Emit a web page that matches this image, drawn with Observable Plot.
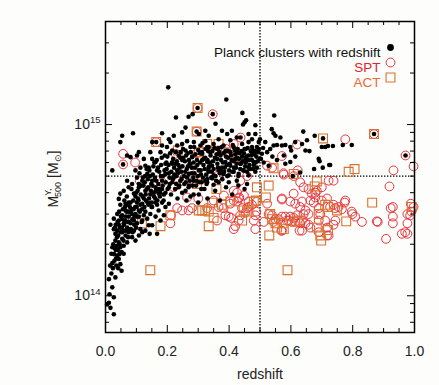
<!DOCTYPE html>
<html>
<head>
<meta charset="utf-8">
<script src="https://cdn.jsdelivr.net/npm/d3@7"></script>
<script src="https://cdn.jsdelivr.net/npm/@observablehq/plot@0.6"></script>
<style>
  body { margin: 0; background: #fdfdfb; }
  #chart { width: 439px; height: 385px; }
</style>
</head>
<body>
<div id="chart"></div>
<script>
// ---- data: [redshift, M500 in units of 1e14 Msun] ----
const planck = [
  // sparse / high mass
  [0.203,16.5],[0.391,14.0],[0.298,12.5],[0.347,11.5],[0.228,11.0],[0.269,11.1],[0.282,11.5],[0.443,11.7],[0.546,11.3],
  [0.295,9.1],[0.259,9.6],[0.089,8.9],[0.054,8.6],[0.048,7.9],[0.164,7.9],[0.183,8.9],[0.437,8.4],[0.869,8.8],[0.704,8.3],
  [0.971,6.6],[0.057,5.85],[0.356,10.1],[0.450,10.3],[0.455,10.6],[0.445,10.0],[0.485,9.9],[0.538,9.4],[0.544,8.9],[0.550,8.6],
  [0.500,8.2],[0.517,7.9],[0.640,9.1],[0.652,8.1],[0.677,8.6],[0.660,7.0],[0.700,7.4],[0.720,7.5],[0.736,7.5],[0.768,7.6],
  [0.797,7.6],[0.690,6.3],[0.675,5.5],[0.703,5.6],[0.724,5.8],[0.022,5.4],
  // z 0.5 - 0.8
  [0.506,6.75],[0.523,6.9],[0.533,7.2],[0.544,7.55],[0.555,7.6],[0.571,7.55],[0.582,7.6],[0.598,7.4],[0.614,7.9],[0.636,7.7],
  [0.647,7.05],[0.555,6.2],[0.582,5.9],[0.598,6.05],[0.630,5.25],[0.566,8.4],[0.496,7.9],[0.474,7.4],[0.485,8.8],[0.601,7.05],
  [0.528,5.75],[0.614,6.5],[0.577,6.6],[0.606,5.0],[0.711,7.4],[0.693,6.1],[0.727,5.8],[0.510,7.3],[0.503,6.3],[0.512,6.0],[0.540,6.5],
  // low-z tail
  [0.011,1.25],[0.032,1.28],[0.022,1.12],[0.027,0.98],[0.011,0.91],[0.016,0.85],[0.027,0.78],[0.013,1.02],[0.005,0.89],
  [0.043,1.64],[0.048,1.53],[0.052,1.40],[0.038,1.72],[0.059,1.76],[0.019,1.76],[0.022,1.92],[0.032,2.1],[0.043,2.05],
  [0.048,1.92],[0.054,2.15],[0.059,1.96],[0.065,2.25],[0.070,2.05],[0.075,2.35],[0.086,2.2],[0.092,2.4],[0.097,2.1],
  [0.102,2.65],[0.108,2.25],[0.113,2.45],[0.119,2.35],[0.129,2.4],[0.143,2.3],[0.151,2.58],[0.167,2.3],[0.016,2.6],
  [0.043,2.75],[0.059,2.65],[0.075,2.9],[0.097,3.0],[0.108,3.15],[0.129,3.1],[0.151,3.3],[0.172,3.15],[0.194,3.3],
  [0.048,3.4],[0.065,3.45],[0.081,3.5],[0.102,3.5],[0.119,3.45],[0.140,3.47],[0.162,3.5],[0.183,3.5],[0.205,3.45],
  [0.032,2.3],[0.027,2.45],[0.038,2.4],[0.054,2.35],[0.070,2.5],[0.081,2.65],[0.092,2.75],[0.119,2.75],[0.135,2.82],
  [0.140,2.58],[0.124,2.95],[0.145,3.0],[0.162,2.9],[0.178,2.75],[0.189,2.95],[0.065,3.15],[0.086,3.2],[0.108,2.9],
  [0.075,3.1],[0.054,2.95],[0.038,3.0],[0.027,2.82],
  [0.024,1.45],[0.029,1.6],[0.035,1.5],[0.041,1.45],[0.019,1.35],[0.015,1.5],[0.033,1.85],[0.045,1.75],
  // band z < 0.34
  [0.048,3.95],[0.043,3.68],[0.059,4.1],[0.070,4.7],[0.075,4.3],[0.086,4.5],[0.092,3.95],[0.102,4.9],[0.108,4.3],[0.119,4.7],
  [0.129,4.1],[0.135,5.15],[0.140,5.6],[0.151,4.7],[0.162,4.3],[0.167,5.4],[0.172,3.95],[0.183,4.7],[0.194,5.15],[0.205,4.3],
  [0.216,5.9],[0.221,4.9],[0.232,5.4],[0.242,4.7],[0.248,6.2],[0.259,4.1],[0.269,5.15],[0.275,5.9],[0.286,4.7],[0.302,5.4],
  [0.313,6.2],[0.323,4.7],[0.334,5.6],
  [0.070,6.6],[0.081,6.45],[0.102,6.6],[0.108,6.9],[0.124,6.3],[0.145,6.9],[0.151,6.3],[0.178,6.9],[0.183,7.55],[0.199,7.4],
  [0.210,7.9],[0.216,7.05],[0.232,7.55],[0.248,7.7],[0.264,8.0],[0.275,7.4],[0.286,7.9],[0.307,7.55],[0.323,8.0],[0.334,7.4],
  [0.259,7.05],[0.237,6.6],[0.280,6.45],[0.313,6.75],[0.194,5.9],[0.162,6.05],[0.129,5.75],[0.097,5.4],[0.113,5.6],[0.151,7.9],
  [0.248,9.0],[0.221,8.6],[0.205,8.2],[0.302,8.8],[0.323,9.2],
  // band z 0.33 - 0.5
  [0.329,7.4],[0.339,6.9],[0.350,7.7],[0.361,7.2],[0.372,6.6],[0.382,7.55],[0.393,7.05],[0.404,8.1],[0.415,7.4],[0.426,6.9],
  [0.442,7.7],[0.453,7.2],[0.463,7.9],[0.474,6.9],[0.490,7.4],[0.329,6.05],[0.345,5.75],[0.361,6.3],[0.377,5.6],[0.388,6.05],
  [0.404,5.75],[0.420,6.3],[0.436,5.9],[0.453,6.3],[0.463,5.6],[0.480,6.05],[0.334,5.3],[0.350,5.05],[0.366,5.4],[0.382,5.15],
  [0.399,5.05],[0.415,5.3],[0.431,5.15],[0.447,5.4],[0.463,5.05],[0.485,5.3],[0.329,4.6],[0.345,4.85],[0.366,4.6],[0.399,4.6],
  [0.425,4.7],[0.458,4.5],[0.394,8.8],[0.409,9.2],[0.425,8.4],[0.463,8.8],[0.474,8.2],[0.366,8.2],[0.334,8.6],[0.377,9.2],
  // dense core z 0.2 - 0.34
  [0.200,6.5],[0.205,5.2],[0.208,4.5],[0.212,3.9],[0.215,6.0],[0.218,4.8],[0.222,5.6],[0.225,4.2],[0.228,6.9],[0.230,5.0],
  [0.233,3.7],[0.236,5.8],[0.239,4.4],[0.242,6.4],[0.245,5.3],[0.248,4.0],[0.251,7.2],[0.254,5.0],[0.257,6.1],[0.260,4.6],
  [0.263,5.5],[0.266,6.8],[0.269,4.3],[0.272,5.9],[0.275,3.8],[0.278,5.2],[0.281,6.5],[0.284,4.9],[0.287,7.4],[0.290,5.6],
  [0.293,4.4],[0.296,6.2],[0.299,5.0],[0.302,3.9],[0.305,6.8],[0.308,5.4],[0.311,4.6],[0.314,7.8],[0.317,5.8],[0.320,4.2],
  [0.323,6.4],[0.326,5.1],[0.329,4.8],[0.332,7.0],[0.335,5.7],
  [0.201,4.2],[0.204,5.8],[0.207,4.9],[0.209,6.8],[0.213,5.3],[0.216,4.6],[0.219,6.3],[0.223,5.1],[0.226,5.9],[0.229,4.5],
  [0.231,6.1],[0.234,5.2],[0.237,4.3],[0.240,5.6],[0.243,6.9],[0.246,4.8],[0.249,5.7],[0.252,6.4],[0.255,4.5],[0.258,5.3],
  [0.261,6.6],[0.264,4.9],[0.267,5.7],[0.270,6.2],[0.273,4.7],[0.276,6.9],[0.279,5.6],[0.282,4.4],[0.285,6.0],[0.288,5.2],
  [0.291,6.7],[0.294,4.7],[0.297,5.8],[0.300,7.1],[0.303,4.6],[0.306,6.0],[0.309,5.1],[0.312,6.9],[0.315,4.9],[0.318,6.3],
  [0.321,5.5],[0.324,7.2],[0.327,4.5],[0.330,6.2],[0.333,5.4],
  // z 0.1 - 0.2
  [0.120,3.8],[0.123,4.4],[0.126,3.3],[0.128,5.0],[0.131,3.6],[0.134,4.2],[0.137,4.8],[0.139,3.4],[0.142,5.4],[0.145,3.9],
  [0.148,4.5],[0.150,3.5],[0.153,5.1],[0.156,4.0],[0.158,6.0],[0.161,3.7],[0.164,4.7],[0.167,3.4],[0.170,5.6],[0.173,4.2],
  [0.176,3.8],[0.179,5.0],[0.182,6.4],[0.185,4.4],[0.188,3.6],[0.191,5.4],[0.194,4.0],[0.197,6.0],
  [0.101,3.3],[0.104,4.1],[0.107,3.6],[0.110,5.2],[0.113,3.4],[0.116,4.4],[0.118,3.2],[0.121,4.9],[0.124,3.7],[0.127,4.6],
  [0.130,3.9],[0.133,5.5],[0.136,3.5],[0.138,4.3],[0.141,3.7],[0.144,5.0],[0.147,4.1],[0.149,3.3],[0.152,4.4],[0.155,5.7],
  [0.157,3.8],[0.160,4.9],[0.163,4.1],[0.166,6.2],[0.168,3.6],[0.171,4.5],[0.174,5.3],[0.177,4.0],[0.180,5.8],[0.183,4.2],
  [0.186,5.0],[0.189,3.9],[0.192,6.6],[0.195,4.6],[0.198,5.5],
  // z 0.03 - 0.12
  [0.060,2.6],[0.063,3.3],[0.066,2.9],[0.069,3.8],[0.072,2.7],[0.075,3.5],[0.078,2.4],[0.081,3.1],[0.084,4.2],[0.087,2.8],
  [0.090,3.6],[0.093,2.6],[0.096,3.3],[0.099,4.0],[0.102,2.9],[0.105,3.7],[0.108,4.5],[0.111,3.1],[0.114,3.9],[0.117,2.7],
  [0.030,1.9],[0.033,2.6],[0.036,1.95],[0.039,2.7],[0.041,2.25],[0.044,3.1],[0.047,2.5],[0.050,2.9],[0.053,2.5],[0.056,3.2],
  [0.058,2.4],[0.061,3.6],[0.063,2.75],[0.066,2.4],[0.068,3.1],[0.071,3.4],[0.073,2.2],[0.076,2.7],[0.079,3.3],[0.082,2.45],
  [0.085,3.0],[0.088,2.35],[0.091,3.2],[0.094,2.9],[0.097,3.8],[0.099,2.5],
  [0.022,1.55],[0.025,2.0],[0.028,1.75],[0.031,2.5],[0.034,1.65],[0.037,2.2],[0.040,1.85],[0.043,2.6],[0.046,2.0],[0.049,2.35],
  [0.052,1.8],[0.055,2.8],[0.058,2.1],
  // z 0.33 - 0.5
  [0.338,6.0],[0.342,4.9],[0.346,7.0],[0.350,5.5],[0.354,6.4],[0.358,4.7],[0.362,5.9],[0.366,7.3],[0.370,5.2],[0.374,6.2],
  [0.378,4.8],[0.382,6.8],[0.386,5.6],[0.390,6.5],[0.394,5.0],[0.398,7.0],[0.402,5.9],[0.406,6.6],[0.410,5.3],[0.414,6.1],
  [0.418,7.1],[0.422,5.6],[0.426,6.4],[0.430,5.0],[0.434,6.8],[0.438,5.9],[0.442,6.5],[0.446,5.4],[0.450,7.2],[0.454,6.0],
  [0.458,5.3],[0.462,6.6],[0.466,5.8],[0.470,7.0],[0.474,6.2],[0.478,5.5],[0.482,6.7],[0.486,6.0],[0.490,5.6],[0.494,6.9],[0.498,6.3],
  [0.340,6.6],[0.344,5.3],[0.348,6.1],[0.352,7.3],[0.356,5.0],[0.360,6.7],[0.364,5.6],[0.368,6.9],[0.372,5.4],[0.376,7.4],
  [0.380,6.0],[0.384,5.3],[0.388,7.0],[0.392,5.8],[0.396,6.4],[0.400,5.4],[0.404,6.9],[0.408,6.2],[0.412,7.6],[0.416,5.6],
  [0.420,6.7],[0.424,5.9],[0.428,7.2],[0.432,6.3],[0.436,5.5],[0.440,7.0],[0.444,6.1],[0.448,6.8],[0.452,5.7],[0.456,6.5],
  [0.460,7.3],[0.464,6.2],[0.468,5.5],[0.472,6.6],[0.476,7.1],[0.480,5.8],[0.484,7.0],[0.488,6.5],[0.492,6.1],[0.496,7.2],
  // below the 5e14 line
  [0.262,3.6],[0.285,3.9],[0.310,4.2],[0.330,3.7],[0.355,4.1],[0.370,3.6],[0.390,4.3],[0.410,3.9],[0.430,4.4],[0.350,4.45],
  [0.300,3.5],[0.270,4.4],[0.450,4.2]
];

const spt = [
  [0.298,12.5],[0.347,11.5],[0.295,9.1],[0.164,7.9],[0.437,8.4],[0.057,6.75],[0.057,5.85],[0.096,6.0],[0.869,8.8],[0.776,8.2],
  [0.971,6.6],[0.997,5.7],[0.932,5.4],[0.620,7.65],[0.227,6.75],[0.296,6.8],[0.361,7.05],[0.415,7.7],[0.390,7.2],[0.523,5.75],
  [0.539,5.6],[0.576,5.2],[0.622,5.4],[0.571,6.55],
  [0.111,4.7],[0.183,4.6],[0.232,4.7],[0.286,4.7],[0.296,5.25],[0.361,5.0],[0.436,4.7],[0.458,5.0],[0.577,5.1],[0.609,5.0],
  [0.630,4.6],[0.641,4.3],[0.657,4.2],[0.679,4.0],[0.722,4.7],[0.738,4.7],[0.919,4.35],[0.700,4.3],[0.717,3.7],[0.774,3.5],
  [0.210,2.65],[0.212,2.95],[0.232,3.25],[0.248,3.15],[0.269,3.15],[0.280,3.25],[0.300,3.7],[0.329,3.25],[0.350,3.6],
  [0.264,3.75],[0.221,4.3],[0.151,4.1],[0.383,3.85],[0.433,3.75],[0.448,3.85],
  [0.366,3.3],[0.382,3.25],[0.388,2.95],[0.399,2.9],[0.407,2.85],[0.420,2.55],[0.431,2.75],[0.436,2.95],[0.442,3.25],[0.453,3.05],
  [0.458,3.25],[0.463,3.3],[0.474,3.4],[0.485,2.95],[0.485,2.45],[0.426,3.55],[0.463,3.55],[0.490,3.55],[0.512,2.7],[0.539,2.95],
  [0.550,2.8],[0.571,2.9],[0.582,2.9],[0.593,2.75],[0.598,2.9],[0.609,2.85],[0.614,2.7],[0.620,2.95],[0.630,2.65],[0.636,2.4],
  [0.641,3.0],[0.647,3.15],[0.630,3.3],[0.636,3.55],[0.598,3.55],[0.571,3.65],[0.569,2.4],[0.603,2.7],[0.628,2.4],[0.361,2.75],
  [0.415,2.45],[0.404,3.45],[0.415,3.6],[0.426,4.0],[0.431,3.7],[0.415,4.1],[0.480,2.75],[0.488,3.1],[0.523,3.45],[0.528,3.0],
  [0.544,2.7],[0.560,2.8],[0.571,2.4],[0.571,3.7],[0.587,2.75],[0.609,3.95],[0.614,3.45],
  [0.674,3.5],[0.657,3.0],[0.663,3.6],[0.668,3.95],[0.684,4.1],[0.690,3.25],[0.695,3.0],[0.679,3.75],[0.700,3.6],[0.711,2.75],
  [0.717,2.5],[0.722,2.25],[0.727,3.3],[0.738,3.4],[0.744,2.75],[0.754,3.3],[0.765,3.2],[0.776,3.6],[0.797,3.1],[0.808,2.9],
  [0.830,2.7],[0.878,2.72],[0.908,2.15],[0.923,3.25],[0.930,3.3],[0.930,2.9],[0.930,2.65],[0.959,2.3],[0.970,2.35],[0.977,2.3],
  [0.977,3.0],[0.977,2.65],[0.988,3.45],[0.997,3.3],[0.990,3.1],[0.986,2.95],[0.657,2.6],[0.663,2.5],[0.690,2.35],[0.717,2.25],
  [0.738,2.6],[0.690,2.75],[0.647,2.65],[0.636,2.75],[0.743,3.25],[0.799,3.0],[0.881,2.7]
];

const act = [
  [0.298,12.5],[0.295,9.1],[0.164,7.9],[0.704,8.3],[0.869,8.8],[0.787,5.3],[0.806,5.5],[0.863,3.5],[0.991,3.3],[0.490,4.3],
  [0.528,4.4],[0.519,3.75],[0.530,2.25],[0.589,1.41],[0.145,1.41],[0.118,2.65],[0.178,2.55],[0.210,2.95],[0.302,3.15],[0.313,3.15],
  [0.323,3.15],[0.334,2.55],[0.345,3.5],[0.359,4.2],[0.350,2.85],[0.377,3.4],[0.404,3.55],[0.447,3.15],[0.463,3.1],[0.442,2.75],
  [0.480,3.55],[0.533,3.0],[0.539,2.8],[0.550,2.65],[0.555,2.5],[0.573,2.65],[0.577,2.45],[0.614,2.72],[0.625,2.75],[0.690,3.0],
  [0.711,3.4],[0.720,3.3],[0.749,3.15],[0.779,2.72],[0.684,2.5],[0.695,2.25],[0.698,2.1],[0.720,2.42],[0.684,4.65],[0.677,4.35],
  [0.487,3.6],[0.544,5.55],[0.609,5.15],[0.234,7.05],[0.329,7.7],[0.366,7.7],[0.399,6.9],[0.426,6.45],[0.436,6.3],[0.232,4.9],
  [0.296,4.5],[0.302,6.9],[0.334,3.1]
];

const massUnit = 1e14;
const xMajorTicks = [0, 0.2, 0.4, 0.6, 0.8, 1.0];
const xMinorTicks = [0.05, 0.1, 0.15, 0.25, 0.3, 0.35, 0.45, 0.5, 0.55, 0.65, 0.7, 0.75, 0.85, 0.9, 0.95];
const yMajorTicks = [1e14, 1e15];
const yMinorTicks = [7e13, 8e13, 9e13, 2e14, 3e14, 4e14, 5e14, 6e14, 7e14, 8e14, 9e14, 2e15, 3e15];
const zCut = [0.5];
const massCut = [5e14];
const legendLabels = ["Planck clusters with redshift", "SPT", "ACT"];
const xLabel = ["redshift"];

// ---- layout / style ----
const W = 439, H = 385, mL = 105, mR = 25, mT = 21, mB = 53;
const innerW = W - mL - mR, innerH = H - mT - mB;
const FONT = "'Liberation Sans', Arial, Helvetica, sans-serif";
const RED = "#e8343c", ORANGE = "#d9722e", ORANGE_TXT = "#ee6630";
const zx = d => d[0], my = d => d[1] * massUnit;

const plot = Plot.plot({
  width: W, height: H,
  marginLeft: mL, marginRight: mR, marginTop: mT, marginBottom: mB,
  style: { fontFamily: FONT, fontSize: "14px", background: "transparent", color: "#1a1a1a", overflow: "visible" },
  x: { domain: [0, 1] },
  y: { type: "log", domain: [6.1e13, 4.0e15] },
  marks: [
    Plot.axisX({ ticks: xMajorTicks, tickFormat: d => d.toFixed(1), tickSize: 0, tickPadding: 14, label: null, fontSize: 14, fill: "#222" }),
    Plot.axisY({ ticks: yMajorTicks, tickFormat: d => String(Math.round(Math.log10(d))), tickSize: 0, tickPadding: 5, label: null, fontSize: 14, fill: "#222" }),
    Plot.ruleX(zCut, { stroke: "#000", strokeWidth: 1.3, strokeDasharray: "1.4,1.6" }),
    Plot.ruleY(massCut, { stroke: "#000", strokeWidth: 1.3, strokeDasharray: "1.4,1.6" }),
    Plot.dot(spt, { x: zx, y: my, r: 4.4, fill: "none", stroke: RED, strokeWidth: 1 }),
    Plot.dot(act, { x: zx, y: my, r: 5.0, symbol: "square", fill: "none", stroke: ORANGE, strokeWidth: 1.1 }),
    Plot.dot(planck, { x: zx, y: my, r: 2.3, fill: "#000", stroke: null }),
    // inward ticks on all four sides
    Plot.ruleX(xMajorTicks, { insetTop: innerH - 7, stroke: "#000" }),
    Plot.ruleX(xMajorTicks, { insetBottom: innerH - 7, stroke: "#000" }),
    Plot.ruleX(xMinorTicks, { insetTop: innerH - 4, stroke: "#000" }),
    Plot.ruleX(xMinorTicks, { insetBottom: innerH - 4, stroke: "#000" }),
    Plot.ruleY(yMajorTicks, { insetRight: innerW - 7, stroke: "#000" }),
    Plot.ruleY(yMajorTicks, { insetLeft: innerW - 7, stroke: "#000" }),
    Plot.ruleY(yMinorTicks, { insetRight: innerW - 4, stroke: "#000" }),
    Plot.ruleY(yMinorTicks, { insetLeft: innerW - 4, stroke: "#000" }),
    Plot.frame({ stroke: "#000", strokeWidth: 1.5 }),
    // x label
    Plot.text(xLabel, { frameAnchor: "bottom", dy: 46, text: d => d, fontSize: 14, fill: "#222" }),
    // legend
    Plot.text([legendLabels[0]], { frameAnchor: "top-right", dx: -34, dy: 26, text: d => d, textAnchor: "end", fontSize: 13.5, fill: "#111" }),
    Plot.text([legendLabels[1]], { frameAnchor: "top-right", dx: -34, dy: 41, text: d => d, textAnchor: "end", fontSize: 13.5, fill: "#e8202a" }),
    Plot.text([legendLabels[2]], { frameAnchor: "top-right", dx: -34, dy: 56, text: d => d, textAnchor: "end", fontSize: 13.5, fill: ORANGE_TXT }),
    Plot.dot([legendLabels[0]], { frameAnchor: "top-right", dx: -24, dy: 26, r: 3.4, fill: "#000", stroke: null }),
    Plot.dot([legendLabels[1]], { frameAnchor: "top-right", dx: -24, dy: 41, r: 4.4, fill: "none", stroke: RED, strokeWidth: 1 }),
    Plot.dot([legendLabels[2]], { frameAnchor: "top-right", dx: -24, dy: 56, r: 5.0, symbol: "square", fill: "none", stroke: ORANGE, strokeWidth: 1.1 })
  ]
});

// superscript exponents on y tick labels (10^14, 10^15)
d3.select(plot).selectAll('g[aria-label="y-axis tick label"] text').each(function () {
  const t = d3.select(this);
  const exp = t.text();
  t.text(null);
  t.append("tspan").text("10");
  t.append("tspan").attr("dy", "-0.6em").attr("font-size", "9.5").text(exp);
});

// y-axis title: M^{Y,}_{500} [M_sun]
const yl = d3.select(plot).append("text")
  .attr("transform", `translate(58,${mT + 158}) rotate(-90)`)
  .attr("text-anchor", "middle")
  .attr("font-family", FONT)
  .attr("font-size", 14)
  .attr("fill", "#222");
yl.append("tspan").text("M");
yl.append("tspan").attr("font-size", 9).attr("dy", -7).text("Y,");
yl.append("tspan").attr("font-size", 9).attr("dx", -8.5).attr("dy", 10).text("500");
yl.append("tspan").attr("dy", -3).text(" [M");
yl.append("tspan").attr("font-size", 9).attr("dy", 3).text("\u2299");
yl.append("tspan").attr("dy", -3).text("]");

document.getElementById("chart").appendChild(plot);
</script>
</body>
</html>
